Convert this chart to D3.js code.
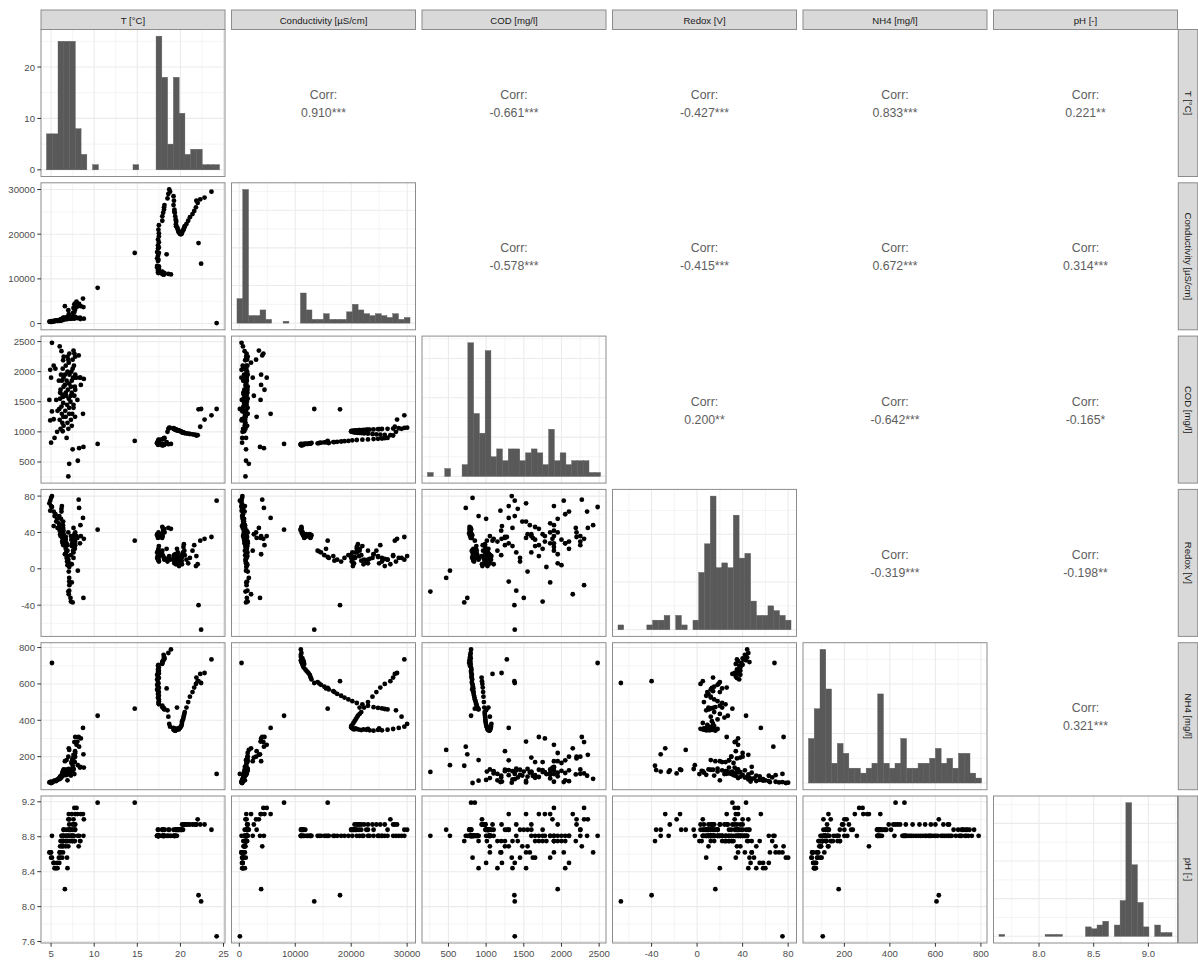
<!DOCTYPE html>
<html>
<head>
<meta charset="utf-8">
<script src="https://cdn.jsdelivr.net/npm/d3@7"></script>
<style>
body { margin: 0; background: #fff; }
</style>
</head>
<body>
<div id="my_dataviz"></div>
<script>
// variable names (strip labels)
const varNames = ["T [°C]", "Conductivity [µS/cm]", "COD [mg/l]", "Redox [V]", "NH4 [mg/l]", "pH [-]"];

// one value per sample, same order in every array (cold samples, two outliers, warm samples)
const temp = [
    4.8, 4.9, 5.0, 5.0, 5.1, 4.9, 5.1, 5.3, 5.3, 5.4,
    5.5, 5.6, 5.7, 5.75, 5.9, 6.0, 6.0, 6.05, 6.1, 6.1,
    6.15, 6.2, 6.2, 6.25, 6.25, 6.3, 6.3, 6.35, 6.4, 6.4,
    6.45, 6.45, 6.42, 6.44, 6.38, 6.46, 5.95, 6.05, 6.35, 6.6,
    6.6, 6.65, 6.7, 6.7, 6.75, 6.8, 6.8, 6.85, 6.9, 6.9,
    6.95, 7.0, 7.0, 7.05, 7.1, 7.1, 7.1, 7.12, 7.13, 7.1,
    7.05, 7.0, 6.7, 6.9, 7.25, 7.3, 7.3, 7.35, 7.4, 7.4,
    7.45, 7.5, 7.5, 7.55, 7.6, 7.6, 7.65, 7.7, 7.7, 7.75,
    7.8, 7.8, 7.78, 7.4, 7.5, 7.6, 7.7, 7.3, 7.79, 7.95,
    8.05, 8.1, 8.2, 8.25, 8.35, 8.4, 8.45, 8.7, 8.75, 8.8,
    10.4, 14.7,
    18.9, 18.6, 18.1, 18.1, 17.9, 17.45, 17.5, 17.4, 17.4, 17.3,
    17.4, 17.3, 17.4, 17.3, 17.4, 18.4, 17.3, 17.4, 17.4, 17.5,
    17.4, 17.5, 17.5, 17.45, 17.5, 17.9, 17.9, 18.1, 18.15, 18.5,
    18.6, 18.7, 18.8, 18.05, 18.1, 18.0, 17.9, 17.4, 18.15, 17.95,
    17.88, 17.5, 17.5, 17.5, 17.45, 17.5, 17.5, 18.0, 18.1,
    19.2, 19.25, 19.2, 19.3, 19.35, 19.4, 19.45, 19.5, 19.48, 19.5,
    19.65, 19.7, 19.75, 19.8, 19.84, 19.6, 19.3, 19.5, 19.95, 20.0,
    20.1, 20.15, 20.18, 20.19, 20.3, 20.35, 20.4, 20.45, 20.5, 20.7,
    20.9, 21.1, 21.4, 21.6, 21.8, 22.0, 21.85, 22.3, 22.8, 23.6,
    22.1, 22.4, 24.2
];
const cond = [
    450, 400, 500, 380, 550, 420, 400, 600, 480, 520,
    650, 700, 580, 620, 700, 650, 800, 750, 900, 680,
    850, 950, 720, 1000, 880, 780, 1100, 920, 1050, 840,
    1200, 960, 1150, 1300, 1000, 1250, 600, 720, 880, 3900,
    1100, 1200, 1250, 950, 1300, 1200, 1350, 1150, 1400, 1000,
    1450, 3000, 1100, 1500, 1700, 1250, 1400, 1300, 1200, 1450,
    2100, 1100, 1150, 1250, 1350, 1500, 1050, 1300, 1450, 1250,
    1500, 1200, 1400, 2400, 3500, 1300, 1450, 2600, 4300, 1350,
    4500, 1500, 3100, 1400, 1250, 1450, 1100, 1200, 1500, 4900,
    3800, 1200, 4100, 4400, 1300, 1000, 3900, 5600, 3700, 1100,
    8000, 15800,
    11000, 11100, 11000, 11200, 11100, 11300, 11500, 11800, 12200, 12600,
    12700, 12900, 14000, 14600, 15200, 15500, 16000, 16800, 17500, 18200,
    18800, 19500, 20200, 21000, 22000, 23000, 24000, 25500, 26500, 28000,
    29000, 30000, 29500, 11000, 11100, 11000, 11200, 11400, 11300, 11500,
    11600, 12000, 12400, 12800, 14300, 15800, 17000, 24800, 26000,
    28500, 27500, 26500, 25500, 24800, 24000, 23300, 22700, 22200, 21800,
    21400, 21000, 20700, 20500, 20300, 21500, 25000, 23000, 20100, 20000,
    20000, 20200, 20400, 20600, 20800, 21000, 21200, 21500, 21800, 22300,
    23000, 23800, 24500, 25200, 26000, 27000, 27500, 27800, 28200, 29500,
    18000, 13400, 100
];
const cod = [
    1530, 2030, 820, 1900, 1340, 1190, 2480, 2100, 1210, 900,
    2050, 1530, 1000, 1350, 1850, 2420, 1200, 1550, 1700, 1050,
    1950, 2340, 1420, 1300, 1850, 1620, 1150, 2050, 2190, 1480,
    1750, 1100, 1250, 1900, 1580, 2250, 1380, 1650, 1010, 1950,
    1780, 1350, 2100, 1250, 1600, 900, 1850, 1450, 2000, 1150,
    1700, 2200, 260, 1550, 470, 1800, 1300, 2300, 1950, 1400,
    2150, 1050, 1650, 2250, 1500, 1750, 1200, 2000, 1650, 1850,
    1300, 710, 2200, 1900, 2350, 1450, 2100, 1600, 2300, 1750,
    1700, 1950, 1250, 1100, 2050, 1400, 1900, 1600, 2250, 1900,
    1530, 520, 2270, 730, 1900, 1900, 1780, 1300, 750, 1880,
    800, 850,
    800, 795, 790, 785, 780, 790, 800, 805, 800, 810,
    805, 815, 810, 820, 825, 830, 815, 830, 835, 840,
    845, 850, 860, 865, 870, 875, 880, 890, 900, 1000,
    1050, 1070, 1065, 790, 785, 780, 775, 785, 795, 790,
    795, 800, 805, 810, 815, 822, 830, 885, 895,
    1060, 1055, 1050, 1048, 1045, 1040, 1038, 1035, 1032, 1030,
    1028, 1025, 1022, 1020, 1018, 1030, 1045, 1036, 1015, 1010,
    1005, 1000, 995, 992, 990, 988, 985, 982, 980, 975,
    970, 965, 960, 955, 950, 945, 940, 1085, 1205, 1275,
    1375, 1380, 1380
];
const redox = [
    72, 75, 78, 69, 80, 64, 68, 63, 47, 58,
    60, 52, 55, 45, 50, 48, 42, 38, 44, 36,
    55, 63, 66, 69, 40, 34, 30, 28, 45, 52,
    38, 33, 26, 42, 48, 36, 58, 46, 31, 16,
    30, 25, 22, 35, 18, 12, 28, 8, 4, 20,
    14, 40, -25, -3, -10, 2, -14, -18, 6, -24,
    -28, 10, 32, 26, -32, -36, 15, 32, 25, -15,
    28, -37, 35, 20, 45, 12, 30, 38, 33, 22,
    26, 40, 34, 5, 28, 18, 24, 36, 30, 36,
    34, -2, 76, 67, 28, 48, 36, 56, -32, 33,
    43, 31,
    44, 45, 43, 41, 46, 40, 38, 35, 36, 38,
    34, 37, 20, 18, 15, 22, 12, 14, 10, 8,
    12, 15, 18, 22, 25, 20, 16, 12, 10, 8,
    12, 14, 10, 42, 44, 43, 39, 37, 40, 36,
    34, 38, 36, 35, 19, 13, 9, 14, 11,
    12, 15, 10, 8, 13, 16, 11, 7, 5, 9,
    14, 18, 12, 6, 3, 22, 6, 10, 8, 12,
    15, 9, 5, 13, 18, 24, 27, 20, 15, 10,
    6, 12, 20, 26, 3, 5, 14, 31, 33, 35,
    -40, -67, 75
];
const nh4 = [
    58, 60, 55, 62, 57, 60, 715, 65, 63, 68,
    70, 66, 72, 75, 80, 78, 85, 90, 88, 82,
    92, 95, 86, 98, 100, 94, 105, 110, 102, 96,
    115, 108, 120, 125, 112, 130, 76, 84, 118, 175,
    115, 120, 125, 128, 118, 181, 110, 100, 122, 70,
    128, 200, 116, 132, 237, 104, 126, 108, 112, 124,
    246, 130, 98, 106, 118, 126, 96, 165, 170, 130,
    180, 150, 190, 175, 210, 128, 200, 195, 280, 170,
    308, 220, 230, 120, 180, 134, 104, 114, 200, 265,
    283, 153, 308, 255, 140, 144, 300, 358, 213, 140,
    425, 464,
    790, 770, 750, 735, 720, 705, 690, 680, 665, 650,
    640, 625, 610, 595, 585, 575, 570, 560, 545, 535,
    525, 515, 505, 495, 488, 480, 472, 465, 460, 455,
    420, 380, 365, 760, 745, 730, 715, 700, 740, 725,
    710, 672, 658, 632, 602, 578, 555, 468, 462,
    358, 352, 348, 345, 347, 343, 345, 348, 350, 346,
    349, 352, 355, 350, 353, 470, 355, 352, 358, 362,
    368, 375, 385, 395, 405, 415, 425, 435, 445, 470,
    500, 530, 555, 580, 600, 615, 635, 655, 660, 735,
    615, 605, 105
];
const ph = [
    8.62, 8.62, 8.56, 8.62, 8.56, 8.62, 8.81, 8.5, 8.5, 8.44,
    8.44, 8.44, 8.5, 8.44, 8.56, 8.62, 8.62, 8.69, 8.75, 8.62,
    8.75, 8.81, 8.75, 8.69, 8.81, 8.56, 8.75, 8.81, 8.75, 8.69,
    8.81, 8.88, 8.75, 8.81, 8.62, 8.88, 8.5, 8.56, 8.75, 8.2,
    8.81, 8.75, 8.81, 8.69, 8.88, 8.75, 8.81, 8.56, 8.75, 8.44,
    8.81, 9.0, 8.81, 8.88, 8.88, 8.75, 8.88, 9.0, 8.81, 8.94,
    9.06, 8.69, 8.75, 8.81, 8.88, 8.88, 8.75, 8.81, 8.81, 9.06,
    8.88, 8.75, 8.94, 8.81, 9.0, 8.88, 8.81, 8.94, 9.13, 8.75,
    9.06, 8.94, 8.88, 8.81, 8.75, 8.81, 8.75, 8.81, 8.88, 9.13,
    9.06, 8.81, 8.69, 8.81, 8.75, 8.75, 9.06, 9.06, 8.81, 9.0,
    9.19, 9.19,
    8.81, 8.88, 8.88, 8.81, 8.88, 8.81, 8.81, 8.88, 8.81, 8.81,
    8.81, 8.81, 8.81, 8.81, 8.81, 8.81, 8.81, 8.81, 8.81, 8.81,
    8.81, 8.81, 8.81, 8.81, 8.81, 8.81, 8.81, 8.81, 8.81, 8.81,
    8.81, 8.88, 8.81, 8.81, 8.81, 8.81, 8.88, 8.88, 8.88, 8.88,
    8.81, 8.81, 8.81, 8.81, 8.81, 8.81, 8.81, 8.81, 8.81,
    8.81, 8.81, 8.88, 8.81, 8.81, 8.88, 8.81, 8.88, 8.81, 8.88,
    8.88, 8.88, 8.88, 8.88, 8.88, 8.81, 8.81, 8.88, 8.88, 8.88,
    8.88, 8.88, 8.88, 8.94, 8.88, 8.94, 8.94, 8.94, 8.94, 8.94,
    8.94, 8.94, 8.94, 8.94, 8.94, 9.0, 8.94, 8.94, 8.94, 8.88,
    8.13, 8.06, 7.66
];

// correlation labels of the upper triangle, row by row
const corrLabels = ["0.910***", "-0.661***", "-0.427***", "0.833***", "0.221**",
    "-0.578***", "-0.415***", "0.672***", "0.314***",
    "0.200**", "-0.642***", "-0.165*",
    "-0.319***", "-0.198**",
    "0.321***"];

// tick values
const axisTicks = [[5, 10, 15, 20, 25], [0, 10000, 20000, 30000], [500, 1000, 1500, 2000, 2500],
    [-40, 0, 40, 80], [200, 400, 600, 800], [7.6, 8.0, 8.4, 8.8, 9.2]];
const phHistTicks = [8.0, 8.5, 9.0];
const tempCountTicks = [0, 10, 20];

const cols = [temp, cond, cod, redox, nh4, ph];

// layout of the 6x6 grid
const gridLeft = 41, gridTop = 29.5, panelW = 184, panelH = 147, stepX = 190.5, stepY = 153.3;
const colX = j => gridLeft + j * stepX, rowY = i => gridTop + i * stepY;

const svg = d3.select("#my_dataviz")
    .append("svg")
    .attr("width", 1198)
    .attr("height", 960)
    .style("font-family", '"Liberation Sans", Arial, Helvetica, sans-serif');

function padded(v) {
    const [lo, hi] = d3.extent(v), p = (hi - lo) * 0.05;
    return [lo - p, hi + p];
}
const x = cols.map((v, j) => d3.scaleLinear().domain(padded(v)).range([colX(j), colX(j) + panelW]));
const y = cols.map((v, i) => d3.scaleLinear().domain(padded(v)).range([rowY(i) + panelH, rowY(i)]));
const xTicks = cols.map((v, j) => j === 5 ? phHistTicks : axisTicks[j]);
const fmt = j => (j === 5 ? d3.format(".1f") : d => String(d));

// histograms, 30 bins centred on the data ends like ggplot
const hists = cols.map(v => {
    const [lo, hi] = d3.extent(v), w = (hi - lo) / 29;
    const edges = d3.range(31).map(k => lo - w / 2 + k * w);
    return d3.bin().domain([edges[0], edges[30]]).thresholds(edges.slice(1, 30))(v);
});
const countY = hists.map((bins, i) => {
    const m = d3.max(bins, b => b.length);
    return d3.scaleLinear().domain([-0.05 * m, 1.05 * m]).range([rowY(i) + panelH, rowY(i)]);
});

function inside(v, dom) { return v >= dom[0] && v <= dom[1]; }
function minorOf(ticks, dom) {
    const step = ticks[1] - ticks[0];
    return d3.range(ticks[0] - step / 2, dom[1], step).filter(v => v > dom[0] && !ticks.includes(v));
}

function drawGrid(g, sx, sy, xt, yt) {
    const xd = sx.domain(), yd = sy.domain(), [x0, x1] = sx.range(), [y0, y1] = sy.range();
    g.selectAll(null).data(minorOf(xt, xd)).join("line")
        .attr("x1", sx).attr("x2", sx).attr("y1", y0).attr("y2", y1)
        .attr("stroke", "#ebebeb").attr("stroke-width", 0.55);
    g.selectAll(null).data(minorOf(yt, yd)).join("line")
        .attr("y1", sy).attr("y2", sy).attr("x1", x0).attr("x2", x1)
        .attr("stroke", "#ebebeb").attr("stroke-width", 0.55);
    g.selectAll(null).data(xt.filter(v => inside(v, xd))).join("line")
        .attr("x1", sx).attr("x2", sx).attr("y1", y0).attr("y2", y1)
        .attr("stroke", "#ebebeb").attr("stroke-width", 1.1);
    g.selectAll(null).data(yt.filter(v => inside(v, yd))).join("line")
        .attr("y1", sy).attr("y2", sy).attr("x1", x0).attr("x2", x1)
        .attr("stroke", "#ebebeb").attr("stroke-width", 1.1);
}

for (let i = 0; i < 6; i++) {
    for (let j = 0; j < 6; j++) {
        const g = svg.append("g");
        if (i < j) {
            // upper triangle: correlation text only
            const k = i * 5 - (i * (i - 1)) / 2 + (j - i - 1);
            const cx = colX(j) + panelW / 2, cy = rowY(i) + panelH / 2;
            g.append("text").attr("x", cx).attr("y", cy - 4)
                .attr("text-anchor", "middle").style("font-size", "12.3px").attr("fill", "#5e5e5e")
                .text("Corr:");
            g.append("text").attr("x", cx).attr("y", cy + 14)
                .attr("text-anchor", "middle").style("font-size", "12.3px").attr("fill", "#5e5e5e")
                .text(corrLabels[k]);
            continue;
        }
        g.append("rect").attr("x", colX(j)).attr("y", rowY(i)).attr("width", panelW).attr("height", panelH)
            .attr("fill", "#fff");
        if (i === j) {
            const cy = countY[i];
            const yt = i === 0 ? tempCountTicks : cy.ticks(4);
            drawGrid(g, x[j], cy, xTicks[j], yt);
            g.append("g").selectAll("rect")
                .data(hists[j].filter(b => b.length > 0))
                .join("rect")
                .attr("x", b => x[j](b.x0))
                .attr("width", b => x[j](b.x1) - x[j](b.x0))
                .attr("y", b => cy(b.length))
                .attr("height", b => cy(0) - cy(b.length))
                .attr("fill", "#595959")
                .attr("stroke", "#595959")
                .attr("stroke-width", 0.4);
        } else {
            drawGrid(g, x[j], y[i], xTicks[j], axisTicks[i]);
            g.append("g").selectAll("circle")
                .data(d3.range(temp.length))
                .join("circle")
                .attr("cx", k => x[j](cols[j][k]))
                .attr("cy", k => y[i](cols[i][k]))
                .attr("r", 2.4)
                .attr("fill", "#000");
        }
        g.append("rect").attr("x", colX(j)).attr("y", rowY(i)).attr("width", panelW).attr("height", panelH)
            .attr("fill", "none").attr("stroke", "#8c8c8c").attr("stroke-width", 1);
    }
}

// strips on top and on the right
varNames.forEach((name, j) => {
    svg.append("rect").attr("x", colX(j)).attr("y", 10).attr("width", panelW).attr("height", 19.5)
        .attr("fill", "#d9d9d9").attr("stroke", "#8c8c8c").attr("stroke-width", 1);
    svg.append("text").attr("x", colX(j) + panelW / 2).attr("y", 20)
        .attr("text-anchor", "middle").attr("dominant-baseline", "central")
        .style("font-size", "9.6px").attr("fill", "#1a1a1a").text(name);

    const cy = rowY(j) + panelH / 2;
    svg.append("rect").attr("x", 1178.3).attr("y", rowY(j)).attr("width", 19.4).attr("height", panelH)
        .attr("fill", "#d9d9d9").attr("stroke", "#8c8c8c").attr("stroke-width", 1);
    svg.append("text").attr("transform", `translate(1188,${cy}) rotate(90)`)
        .attr("text-anchor", "middle").attr("dominant-baseline", "central")
        .style("font-size", "9.6px").attr("fill", "#1a1a1a").text(name);
});

// left axis (row 1 shows histogram counts)
for (let i = 0; i < 6; i++) {
    const sy = i === 0 ? countY[0] : y[i];
    const ticks = (i === 0 ? tempCountTicks : axisTicks[i]).filter(v => inside(v, sy.domain()));
    const g = svg.append("g");
    g.selectAll("line").data(ticks).join("line")
        .attr("x1", gridLeft - 3.7).attr("x2", gridLeft).attr("y1", sy).attr("y2", sy)
        .attr("stroke", "#333").attr("stroke-width", 1);
    g.selectAll("text").data(ticks).join("text")
        .attr("x", gridLeft - 6).attr("y", sy).attr("dominant-baseline", "central")
        .attr("text-anchor", "end").style("font-size", "9.6px").attr("fill", "#4d4d4d")
        .text(i === 5 ? d3.format(".1f") : d => String(d));
}

// bottom axis
const bottom = rowY(5) + panelH;
for (let j = 0; j < 6; j++) {
    const ticks = xTicks[j].filter(v => inside(v, x[j].domain()));
    const g = svg.append("g");
    g.selectAll("line").data(ticks).join("line")
        .attr("x1", x[j]).attr("x2", x[j]).attr("y1", bottom).attr("y2", bottom + 3.7)
        .attr("stroke", "#333").attr("stroke-width", 1);
    g.selectAll("text").data(ticks).join("text")
        .attr("x", x[j]).attr("y", bottom + 13.5)
        .attr("text-anchor", "middle").style("font-size", "9.6px").attr("fill", "#4d4d4d")
        .text(fmt(j));
}
</script>
</body>
</html>
